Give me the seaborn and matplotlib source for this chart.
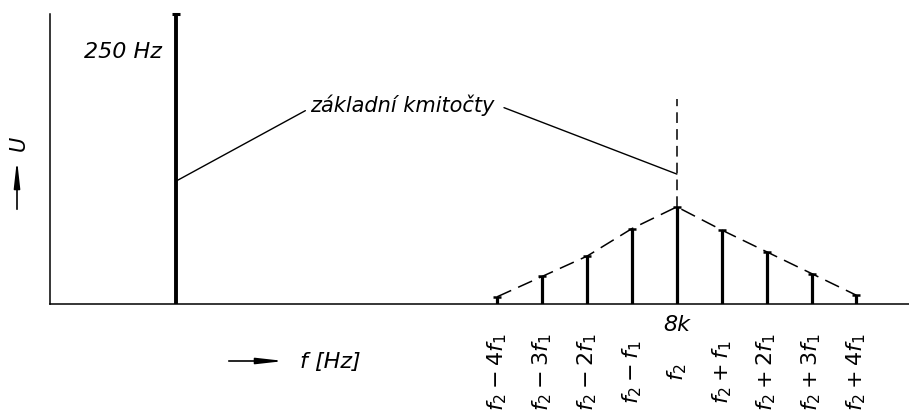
import matplotlib
matplotlib.use("Agg")
import matplotlib.pyplot as plt
import matplotlib.transforms as mtransforms
from matplotlib.patches import FancyArrowPatch
import pandas as pd
import seaborn as sns

# Spectrum of the test signal: one low fundamental and a carrier f2 with its sidebands
fundamental_label = "250 Hz"
fundamental_amplitude = 1.0
carrier_label = "8k"
sideband_order = [-4, -3, -2, -1, 0, 1, 2, 3, 4]
sideband_amplitude = [0.025, 0.095, 0.165, 0.26, 0.335, 0.255, 0.18, 0.105, 0.03]
sideband_labels = [r"$f_2-4f_1$", r"$f_2-3f_1$", r"$f_2-2f_1$", r"$f_2-f_1$",
                   r"$f_2$", r"$f_2+f_1$", r"$f_2+2f_1$", r"$f_2+3f_1$",
                   r"$f_2+4f_1$"]
annotation_text = "základní kmitočty"
x_label = "f [Hz]"
y_label = "U"

# schematic (non-linear) frequency axis: sidebands one unit apart, carrier at 0
FUND_X = -11.15

sns.set_style("white")
plt.rcParams["font.family"] = ["DejaVu Sans"]
plt.rcParams["mathtext.fontset"] = "dejavusans"

df = pd.DataFrame({"order": sideband_order, "amp": sideband_amplitude})

fig = plt.figure(figsize=(9.09, 4.14), dpi=100)
ax = fig.add_axes([50 / 909, 109 / 414, 859 / 909, 290 / 414])
ax.set_xlim(-13.96, 5.17)
ax.set_ylim(0, 1)
for side in ("top", "right"):
    ax.spines[side].set_visible(False)
for side in ("left", "bottom"):
    ax.spines[side].set_color("black")
    ax.spines[side].set_linewidth(1.1)
ax.set_xticks([])
ax.set_yticks([])

# spectral lines
ax.vlines(df["order"], 0, df["amp"], color="black", lw=2.3)
ax.vlines([FUND_X], 0, [fundamental_amplitude], color="black", lw=2.8)
sns.scatterplot(data=df, x="order", y="amp", marker="_", s=30, color="black",
                linewidth=1.8, ax=ax, clip_on=False, zorder=3)
sns.scatterplot(x=[FUND_X], y=[fundamental_amplitude], marker="_", s=40,
                color="black", linewidth=2.2, ax=ax, clip_on=False, zorder=3)

# dashed envelope over the sidebands
sns.lineplot(data=df, x="order", y="amp", color="black", lw=1.1, ax=ax)
ax.lines[-1].set_linestyle((0, (10, 5)))

# dashed marker line above the carrier
carrier_amp = sideband_amplitude[sideband_order.index(0)]
ax.vlines([0], carrier_amp, 0.707, color="black", lw=1.1,
          linestyles=[(0, (7, 4))])
ax.set_xlabel("")
ax.set_ylabel("")

txt_style = dict(style="italic", color="black")

ax.text(-12.34, 0.872, fundamental_label, ha="center", va="center",
        fontsize=16, **txt_style)

# label with two leader lines to the fundamentals
ax.annotate(annotation_text, xy=(FUND_X, 0.424), xytext=(-6.12, 0.69),
            ha="center", va="center", fontsize=15, **txt_style,
            arrowprops=dict(arrowstyle="-", color="black", lw=1.0,
                            relpos=(0, 0.3), shrinkA=1, shrinkB=0))
ax.annotate(annotation_text, xy=(0, 0.448), xytext=(-6.12, 0.69),
            ha="center", va="center", fontsize=15, style="italic",
            color="none",
            arrowprops=dict(arrowstyle="-", color="black", lw=1.0,
                            relpos=(1, 0.5), shrinkA=5, shrinkB=0))

ax.text(0, -0.069, carrier_label, ha="center", va="center", fontsize=16,
        **txt_style)

# sideband names under the axis, centred on a common line
trans = mtransforms.blended_transform_factory(ax.transData, fig.transFigure)
for xo, lab in zip(sideband_order, sideband_labels):
    ax.text(xo, 1 - 372 / 414, lab, rotation=90, ha="center", va="center",
            fontsize=16, transform=trans, color="black")

# axis names with technical arrows
arrow_style = "-|>,head_length=1.6,head_width=0.18"
fig.add_artist(FancyArrowPatch((226 / 909, 1 - 362 / 414),
                               (287 / 909, 1 - 362 / 414),
                               transform=fig.transFigure, arrowstyle=arrow_style,
                               mutation_scale=10, lw=1.2, color="black"))
fig.text(300 / 909, 1 - 362 / 414, x_label, ha="left", va="center",
         fontsize=16, **txt_style)
fig.add_artist(FancyArrowPatch((17 / 909, 1 - 213 / 414),
                               (17 / 909, 1 - 158 / 414),
                               transform=fig.transFigure, arrowstyle=arrow_style,
                               mutation_scale=10, lw=1.2, color="black"))
fig.text(19 / 909, 1 - 143 / 414, y_label, rotation=90, ha="center",
         va="center", fontsize=15, **txt_style)

fig.savefig("out.png", dpi=100)
